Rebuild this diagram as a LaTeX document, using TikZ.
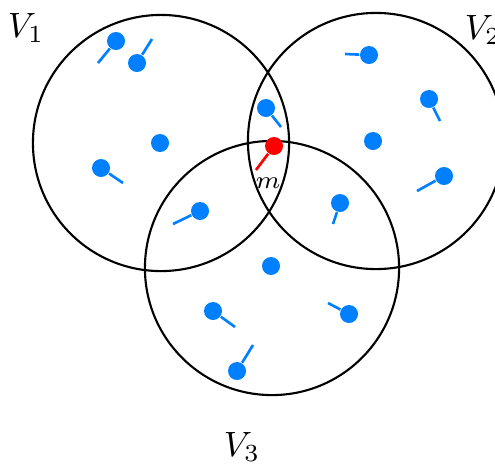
\documentclass[tikz,border=0pt]{standalone}
\usepackage{amsmath, amssymb}
\usetikzlibrary{positioning}

\definecolor{userblue}{RGB}{0,128,255}

\begin{document}
\begin{tikzpicture}[x=0.01cm, y=-0.01cm,
                cell/.style={draw, line width=0.6pt},
                user/.style={circle, fill=userblue, inner sep=0pt, minimum size=0.18cm},
                master/.style={circle, fill=red, inner sep=0pt, minimum size=0.18cm},
                stub/.style={draw=userblue, line width=0.75pt},
                mstub/.style={draw=red, line width=0.75pt}]
                \useasboundingbox (0,0) rectangle (495,466);
                % coverage areas
                \draw[cell] (161,143) circle[radius=1.28cm];
                \draw[cell] (376,141) circle[radius=1.28cm];
                \draw[cell] (272,268) circle[radius=1.27cm];
                \node at (26,28) {$V_1$};
                \node at (483,30) {$V_2$};
                \node at (242,447) {$V_3$};
                % users in V1
                \node[user] (a1) at (116,41) {};
                \node[user] (a2) at (137,63) {};
                \node[user] (a3) at (160,143) {};
                \node[user] (a4) at (101,168) {};
                \node[user] (a5) at (200,211) {};
                \coordinate (ta1) at (98,63);
                \coordinate (ta2) at (152,39);
                \coordinate (ta4) at (123,183);
                \coordinate (ta5) at (173,224);
                \draw[stub] (a1) -- (ta1);
                \draw[stub] (a2) -- (ta2);
                \draw[stub] (a4) -- (ta4);
                \draw[stub] (a5) -- (ta5);
                % users in V2
                \node[user] (b1) at (369,55) {};
                \node[user] (b2) at (429,99) {};
                \node[user] (b3) at (373,141) {};
                \node[user] (b4) at (444,176) {};
                \node[user] (b5) at (340,203) {};
                \node[user] (b6) at (266,108) {};
                \coordinate (tb1) at (345,54);
                \coordinate (tb2) at (440,121);
                \coordinate (tb4) at (417,191);
                \coordinate (tb5) at (333,224);
                \coordinate (tb6) at (281,127);
                \draw[stub] (b1) -- (tb1);
                \draw[stub] (b2) -- (tb2);
                \draw[stub] (b4) -- (tb4);
                \draw[stub] (b5) -- (tb5);
                \draw[stub] (b6) -- (tb6);
                % users in V3
                \node[user] (c1) at (271,266) {};
                \node[user] (c2) at (213,311) {};
                \node[user] (c3) at (349,314) {};
                \node[user] (c4) at (237,371) {};
                \coordinate (tc2) at (235,327);
                \coordinate (tc3) at (328,303);
                \coordinate (tc4) at (253,345);
                \draw[stub] (c2) -- (tc2);
                \draw[stub] (c3) -- (tc3);
                \draw[stub] (c4) -- (tc4);
                % shared user m
                \node[master] (m) at (274,146) {};
                \coordinate (tm) at (256,170);
                \draw[mstub] (m) -- (tm);
                \node[font=\scriptsize] (ml) at (268,183) {$m$};
            \end{tikzpicture}
\end{document}
